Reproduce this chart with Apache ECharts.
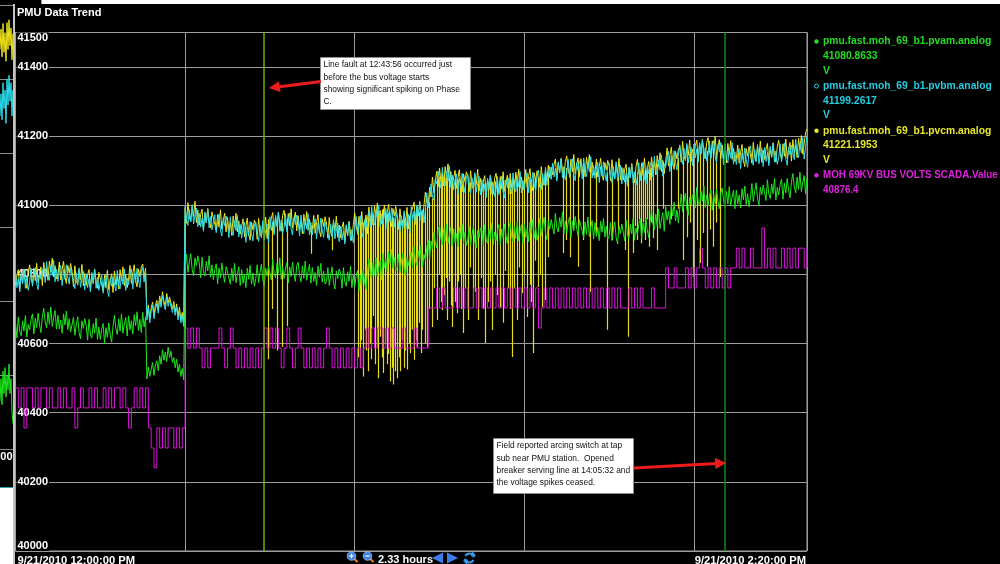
<!DOCTYPE html>
<html>
<head>
<meta charset="utf-8">
<title>PMU Data Trend</title>
<script src="https://cdn.jsdelivr.net/npm/echarts@6/dist/echarts.min.js"></script>
<style>
  html, body { margin: 0; padding: 0; background: #000; }
  #chart { width: 1000px; height: 564px; }
</style>
</head>
<body>
<div id="chart"></div>
<script>
// ---- data -------------------------------------------------------------
// Minutes after 9/21/2010 12:00:00 PM.
// PMU channels are listed every quarter minute, the SCADA point every half minute.
const PMU_STEP_MIN = 0.25;
const SCADA_STEP_MIN = 0.5;
const xTickLabels = ['9/21/2010 12:00:00 PM', '9/21/2010 2:20:00 PM'];
const seriesNames = [
  'pmu.fast.moh_69_b1.pvam.analog',
  'pmu.fast.moh_69_b1.pvbm.analog',
  'pmu.fast.moh_69_b1.pvcm.analog',
  'MOH 69KV BUS VOLTS SCADA.Value'
];
const lastValues = ['41080.8633', '41199.2617', '41221.1953', '40876.4'];
const seriesUnits = ['V', 'V', 'V', ''];

// Phase A magnitude (V)
const pvam = [
  40661, 40617, 40677, 40635, 40623, 40665, 40637, 40681, 40619, 40655, 40640, 40670, 40686, 40628, 40674, 40646, 40688, 40654, 40632, 40678,
  40702, 40664, 40646, 40692, 40656, 40706, 40650, 40676, 40696, 40642, 40682, 40642, 40668, 40630, 40686, 40654, 40694, 40640, 40672, 40634,
  40636, 40676, 40624, 40654, 40678, 40632, 40614, 40666, 40644, 40672, 40654, 40610, 40670, 40628, 40616, 40658, 40630, 40674, 40612, 40648,
  40612, 40642, 40658, 40600, 40646, 40618, 40660, 40626, 40604, 40650, 40682, 40644, 40626, 40672, 40636, 40686, 40630, 40656, 40676, 40622,
  40680, 40640, 40666, 40628, 40684, 40652, 40692, 40638, 40670, 40632, 40690, 40648, 40678, 40498, 40532, 40505, 40525, 40545, 40508, 40538,
  40550, 40522, 40565, 40540, 40582, 40552, 40575, 40548, 40590, 40560, 40578, 40545, 40560, 40530, 40555, 40518, 40540, 40505, 40528, 40495,
  40818, 40858, 40806, 40836, 40860, 40814, 40796, 40848, 40826, 40854, 40834, 40790, 40850, 40808, 40796, 40838, 40810, 40854, 40792, 40828,
  40785, 40815, 40831, 40773, 40819, 40791, 40833, 40799, 40777, 40823, 40828, 40790, 40772, 40818, 40782, 40832, 40776, 40802, 40822, 40768,
  40814, 40774, 40800, 40762, 40818, 40786, 40826, 40772, 40804, 40766, 40788, 40828, 40776, 40806, 40830, 40784, 40766, 40818, 40796, 40824,
  40828, 40784, 40844, 40802, 40790, 40832, 40804, 40848, 40786, 40822, 40788, 40818, 40834, 40776, 40822, 40794, 40836, 40802, 40780, 40826,
  40835, 40797, 40779, 40825, 40789, 40839, 40783, 40809, 40829, 40775, 40820, 40780, 40806, 40768, 40824, 40792, 40832, 40778, 40810, 40772,
  40780, 40820, 40768, 40798, 40822, 40776, 40758, 40810, 40788, 40816, 40804, 40760, 40820, 40778, 40766, 40808, 40780, 40824, 40762, 40798,
  40765, 40795, 40811, 40753, 40799, 40771, 40813, 40779, 40757, 40803, 40845, 40807, 40789, 40835, 40799, 40849, 40793, 40819, 40839, 40785,
  40860, 40820, 40846, 40808, 40864, 40832, 40872, 40818, 40850, 40812, 40818, 40858, 40806, 40836, 40860, 40814, 40796, 40848, 40826, 40854,
  40864, 40820, 40880, 40838, 40826, 40868, 40840, 40884, 40822, 40858, 40840, 40876, 40898, 40845, 40897, 40874, 40922, 40893, 40877, 40928,
  40942, 40904, 40886, 40932, 40896, 40946, 40890, 40916, 40936, 40882, 40932, 40892, 40918, 40880, 40936, 40904, 40944, 40890, 40922, 40884,
  40898, 40938, 40886, 40916, 40940, 40894, 40876, 40928, 40906, 40934, 40928, 40884, 40944, 40902, 40890, 40932, 40904, 40948, 40886, 40922,
  40898, 40928, 40944, 40886, 40932, 40904, 40946, 40912, 40890, 40936, 40950, 40912, 40894, 40940, 40904, 40954, 40898, 40924, 40944, 40890,
  40947, 40907, 40933, 40895, 40951, 40919, 40959, 40905, 40937, 40899, 40923, 40963, 40911, 40941, 40965, 40919, 40901, 40953, 40931, 40959,
  40961, 40917, 40977, 40935, 40923, 40965, 40937, 40981, 40919, 40955, 40920, 40950, 40966, 40908, 40954, 40926, 40968, 40934, 40912, 40958,
  40962, 40924, 40906, 40952, 40916, 40966, 40910, 40936, 40956, 40902, 40950, 40910, 40936, 40898, 40954, 40922, 40962, 40908, 40940, 40902,
  40910, 40950, 40898, 40928, 40952, 40906, 40888, 40940, 40918, 40946, 40941, 40897, 40957, 40915, 40903, 40945, 40917, 40961, 40899, 40935,
  40915, 40945, 40961, 40903, 40949, 40921, 40963, 40929, 40907, 40953, 40985, 40947, 40929, 40975, 40939, 40989, 40933, 40959, 40979, 40925,
  40997, 40957, 40983, 40945, 41001, 40969, 41009, 40955, 40987, 40949, 40993, 41033, 40981, 41011, 41035, 40989, 40971, 41023, 41001, 41029,
  41036, 40992, 41052, 41010, 40998, 41040, 41012, 41056, 40994, 41030, 40998, 41028, 41044, 40986, 41032, 41004, 41046, 41012, 40990, 41036,
  41050, 41012, 40994, 41040, 41004, 41054, 40998, 41024, 41044, 40990, 41044, 41004, 41030, 40992, 41048, 41016, 41056, 41002, 41034, 40996,
  41023, 41063, 41011, 41041, 41065, 41019, 41001, 41053, 41031, 41059, 41058, 41014, 41074, 41032, 41020, 41062, 41034, 41078, 41016, 41052,
  41030, 41060, 41076, 41018, 41064, 41036, 41078, 41044, 41022, 41068, 41092, 41054, 41036, 41082, 41046, 41096, 41040, 41066, 41086, 41032,
  41080
];

// Phase B magnitude (V)
const pvbm = [
  40802, 40762, 40788, 40750, 40806, 40774, 40814, 40760, 40792, 40754, 40778, 40818, 40766, 40796, 40820, 40774, 40756, 40808, 40786, 40814,
  40821, 40777, 40837, 40795, 40783, 40825, 40797, 40841, 40779, 40815, 40780, 40810, 40826, 40768, 40814, 40786, 40828, 40794, 40772, 40818,
  40815, 40777, 40759, 40805, 40769, 40819, 40763, 40789, 40809, 40755, 40802, 40762, 40788, 40750, 40806, 40774, 40814, 40760, 40792, 40754,
  40758, 40798, 40746, 40776, 40800, 40754, 40736, 40788, 40766, 40794, 40796, 40752, 40812, 40770, 40758, 40800, 40772, 40816, 40754, 40790,
  40770, 40800, 40816, 40758, 40804, 40776, 40818, 40784, 40762, 40808, 40820, 40778, 40812, 40668, 40702, 40660, 40695, 40710, 40672, 40700,
  40715, 40688, 40728, 40705, 40740, 40712, 40698, 40735, 40708, 40725, 40730, 40690, 40712, 40682, 40705, 40668, 40695, 40660, 40680, 40650,
  40998, 40960, 40942, 40988, 40952, 41002, 40946, 40972, 40992, 40938, 40977, 40937, 40963, 40925, 40981, 40949, 40989, 40935, 40967, 40929,
  40933, 40973, 40921, 40951, 40975, 40929, 40911, 40963, 40941, 40969, 40951, 40907, 40967, 40925, 40913, 40955, 40927, 40971, 40909, 40945,
  40905, 40935, 40951, 40893, 40939, 40911, 40953, 40919, 40897, 40943, 40952, 40914, 40896, 40942, 40906, 40956, 40900, 40926, 40946, 40892,
  40967, 40927, 40953, 40915, 40971, 40939, 40979, 40925, 40957, 40919, 40936, 40976, 40924, 40954, 40978, 40932, 40914, 40966, 40944, 40972,
  40956, 40912, 40972, 40930, 40918, 40960, 40932, 40976, 40914, 40950, 40915, 40945, 40961, 40903, 40949, 40921, 40963, 40929, 40907, 40953,
  40955, 40917, 40899, 40945, 40909, 40959, 40903, 40929, 40949, 40895, 40940, 40900, 40926, 40888, 40944, 40912, 40952, 40898, 40930, 40892,
  40928, 40968, 40916, 40946, 40970, 40924, 40906, 40958, 40936, 40964, 40981, 40937, 40997, 40955, 40943, 40985, 40957, 41001, 40939, 40975,
  40945, 40975, 40991, 40933, 40979, 40951, 40993, 40959, 40937, 40983, 40980, 40942, 40924, 40970, 40934, 40984, 40928, 40954, 40974, 40920,
  40997, 40957, 40983, 40945, 41001, 40969, 41009, 40955, 40987, 40949, 40988, 41036, 40992, 41030, 41062, 41024, 41016, 41076, 41062, 41099,
  41094, 41050, 41110, 41068, 41056, 41098, 41070, 41114, 41052, 41088, 41045, 41075, 41091, 41033, 41079, 41051, 41093, 41059, 41037, 41083,
  41090, 41052, 41034, 41080, 41044, 41094, 41038, 41064, 41084, 41030, 41074, 41034, 41060, 41022, 41078, 41046, 41086, 41032, 41064, 41026,
  41043, 41083, 41031, 41061, 41085, 41039, 41021, 41073, 41051, 41079, 41078, 41034, 41094, 41052, 41040, 41082, 41054, 41098, 41036, 41072,
  41048, 41078, 41094, 41036, 41082, 41054, 41096, 41062, 41040, 41086, 41102, 41064, 41046, 41092, 41060, 41110, 41058, 41088, 41112, 41075,
  41122, 41082, 41108, 41070, 41126, 41094, 41134, 41080, 41112, 41074, 41093, 41133, 41081, 41111, 41135, 41089, 41071, 41123, 41101, 41129,
  41121, 41077, 41137, 41095, 41083, 41125, 41097, 41141, 41079, 41115, 41078, 41108, 41124, 41066, 41112, 41084, 41126, 41092, 41070, 41116,
  41122, 41084, 41066, 41112, 41076, 41126, 41070, 41096, 41116, 41062, 41107, 41067, 41093, 41055, 41111, 41079, 41119, 41065, 41097, 41059,
  41083, 41123, 41071, 41101, 41125, 41079, 41061, 41113, 41091, 41119, 41126, 41082, 41142, 41100, 41088, 41130, 41102, 41146, 41084, 41120,
  41110, 41140, 41156, 41098, 41144, 41116, 41158, 41124, 41102, 41148, 41175, 41137, 41119, 41165, 41129, 41179, 41123, 41149, 41169, 41115,
  41177, 41137, 41163, 41125, 41181, 41149, 41189, 41135, 41167, 41129, 41146, 41186, 41134, 41164, 41188, 41142, 41124, 41176, 41154, 41182,
  41161, 41117, 41177, 41135, 41123, 41165, 41137, 41181, 41119, 41155, 41118, 41148, 41164, 41106, 41152, 41124, 41166, 41132, 41110, 41156,
  41172, 41134, 41116, 41162, 41126, 41176, 41120, 41146, 41166, 41112, 41167, 41127, 41153, 41115, 41171, 41139, 41179, 41125, 41157, 41119,
  41138, 41178, 41126, 41156, 41180, 41134, 41116, 41168, 41146, 41174, 41176, 41132, 41192, 41150, 41138, 41180, 41152, 41196, 41134, 41170,
  41199
];

// Phase C magnitude (V)
const pvcm = [
  40768, 40798, 40814, 40756, 40802, 40774, 40816, 40782, 40760, 40806, 40828, 40790, 40772, 40818, 40782, 40832, 40776, 40802, 40822, 40768,
  40835, 40795, 40821, 40783, 40839, 40807, 40847, 40793, 40825, 40787, 40796, 40836, 40784, 40814, 40838, 40792, 40774, 40826, 40804, 40832,
  40809, 40765, 40825, 40783, 40771, 40813, 40785, 40829, 40767, 40803, 40768, 40798, 40814, 40756, 40802, 40774, 40816, 40782, 40760, 40806,
  40808, 40770, 40752, 40798, 40762, 40812, 40756, 40782, 40802, 40748, 40810, 40770, 40796, 40758, 40814, 40782, 40822, 40768, 40800, 40762,
  40786, 40826, 40774, 40804, 40828, 40782, 40764, 40816, 40794, 40822, 40830, 40790, 40818, 40678, 40712, 40670, 40705, 40720, 40682, 40712,
  40725, 40698, 40738, 40715, 40750, 40722, 40708, 40745, 40718, 40735, 40740, 40700, 40722, 40692, 40715, 40678, 40705, 40670, 40690, 40662,
  40992, 40948, 41008, 40966, 40954, 40996, 40968, 41012, 40950, 40986, 40943, 40973, 40989, 40931, 40977, 40949, 40991, 40957, 40935, 40981,
  40983, 40945, 40927, 40973, 40937, 40987, 40931, 40957, 40977, 40923, 40965, 40925, 40951, 40913, 40969, 40937, 40977, 40923, 40955, 40917,
  40921, 40961, 40909, 40939, 40963, 40917, 40899, 40951, 40929, 40957, 40946, 40902, 40962, 40920, 40908, 40950, 40922, 40966, 40904, 40940,
  40933, 40963, 40979, 40921, 40967, 40939, 40981, 40947, 40925, 40971, 40986, 40948, 40930, 40976, 40940, 40990, 40934, 40960, 40980, 40926,
  40970, 40930, 40956, 40918, 40974, 40942, 40982, 40928, 40960, 40922, 40931, 40971, 40919, 40949, 40973, 40927, 40909, 40961, 40939, 40967,
  40949, 40905, 40965, 40923, 40911, 40953, 40925, 40969, 40907, 40943, 40906, 40936, 40952, 40894, 40940, 40912, 40954, 40920, 40898, 40944,
  40978, 40940, 40922, 40968, 40932, 40982, 40926, 40952, 40972, 40918, 40995, 40955, 40981, 40943, 40999, 40967, 41007, 40953, 40985, 40947,
  40961, 41001, 40949, 40979, 41003, 40957, 40939, 40991, 40969, 40997, 40974, 40930, 40990, 40948, 40936, 40978, 40950, 40994, 40932, 40968,
  40963, 40993, 41009, 40951, 40997, 40969, 41011, 40977, 40955, 41001, 41038, 41008, 40998, 41052, 41024, 41082, 41036, 41070, 41098, 41053,
  41108, 41068, 41094, 41056, 41112, 41080, 41120, 41066, 41098, 41060, 41061, 41101, 41049, 41079, 41103, 41057, 41039, 41091, 41069, 41097,
  41084, 41040, 41100, 41058, 41046, 41088, 41060, 41104, 41042, 41078, 41040, 41070, 41086, 41028, 41074, 41046, 41088, 41054, 41032, 41078,
  41093, 41055, 41037, 41083, 41047, 41097, 41041, 41067, 41087, 41033, 41092, 41052, 41078, 41040, 41096, 41064, 41104, 41050, 41082, 41044,
  41064, 41104, 41052, 41082, 41106, 41060, 41042, 41094, 41072, 41100, 41096, 41052, 41112, 41070, 41058, 41100, 41072, 41116, 41080, 41110,
  41088, 41118, 41134, 41076, 41122, 41094, 41136, 41102, 41080, 41126, 41143, 41105, 41087, 41133, 41097, 41147, 41091, 41117, 41137, 41083,
  41135, 41095, 41121, 41083, 41139, 41107, 41147, 41093, 41125, 41087, 41094, 41134, 41082, 41112, 41136, 41090, 41072, 41124, 41102, 41130,
  41116, 41072, 41132, 41090, 41078, 41120, 41092, 41136, 41074, 41110, 41073, 41103, 41119, 41061, 41107, 41079, 41121, 41087, 41065, 41111,
  41133, 41095, 41077, 41123, 41087, 41137, 41081, 41107, 41127, 41073, 41140, 41100, 41126, 41088, 41144, 41112, 41152, 41098, 41130, 41092,
  41126, 41166, 41114, 41144, 41168, 41122, 41104, 41156, 41134, 41162, 41169, 41125, 41185, 41143, 41131, 41173, 41145, 41189, 41127, 41163,
  41143, 41173, 41189, 41131, 41177, 41149, 41191, 41157, 41135, 41181, 41196, 41158, 41140, 41186, 41150, 41200, 41144, 41170, 41190, 41136,
  41175, 41135, 41161, 41123, 41179, 41147, 41187, 41133, 41165, 41127, 41134, 41174, 41122, 41152, 41176, 41130, 41112, 41164, 41142, 41170,
  41166, 41122, 41182, 41140, 41128, 41170, 41142, 41186, 41124, 41160, 41133, 41163, 41179, 41121, 41167, 41139, 41181, 41147, 41125, 41171,
  41188, 41150, 41132, 41178, 41142, 41192, 41136, 41162, 41182, 41128, 41190, 41150, 41176, 41138, 41194, 41162, 41202, 41148, 41180, 41210,
  41221
];

// Phase C voltage spikes: [minute, level before the spike (V), bottom of the spike (V)]
const pvcmSpikes = [
  [44.7, 40960, 40555], [45.4, 40950, 40700], [46.3, 40955, 40580], [47.2, 40950, 40590], [48.1, 40960, 40650],
  [52.3, 40940, 40860], [56.0, 40940, 40870],
  [60.6, 40955, 40560], [60.9, 40960, 40530], [61.2, 40952, 40610], [61.5, 40950, 40505], [61.8, 40958, 40640],
  [62.1, 40965, 40580], [62.4, 40962, 40520], [62.7, 40960, 40600], [63.0, 40970, 40555], [63.3, 40972, 40680],
  [63.6, 40978, 40540], [63.9, 40985, 40590], [64.2, 40982, 40500], [64.5, 40980, 40620], [64.8, 40988, 40560],
  [65.1, 40990, 40515], [65.4, 40982, 40600], [65.7, 40975, 40540], [66.0, 40972, 40570], [66.3, 40970, 40490],
  [66.6, 40968, 40530], [66.9, 40965, 40482], [67.2, 40962, 40520], [67.5, 40960, 40500], [67.8, 40958, 40560],
  [68.1, 40955, 40520], [68.4, 40958, 40610], [68.7, 40960, 40530], [69.0, 40962, 40580], [69.3, 40965, 40525],
  [69.6, 40968, 40600], [69.9, 40970, 40572], [70.2, 40972, 40640], [70.5, 40975, 40553], [70.8, 40976, 40610],
  [71.1, 40978, 40590], [71.4, 40980, 40660], [71.7, 40982, 40573], [72.0, 40985, 40640], [72.4, 40992, 40600],
  [72.8, 41000, 40590],
  [73.2, 41010, 40700], [73.7, 41020, 40648], [74.1, 41050, 40760], [74.6, 41070, 40668], [75.0, 41080, 40800],
  [75.3, 41082, 40720], [75.5, 41085, 40697], [75.9, 41082, 40740], [76.2, 41080, 40790], [76.4, 41080, 40668],
  [76.8, 41080, 40780], [77.1, 41078, 40710], [77.3, 41078, 40648], [77.7, 41076, 40720], [78.1, 41075, 40688],
  [78.4, 41074, 40780], [78.6, 41072, 40800], [78.9, 41072, 40700], [79.2, 41070, 40631], [79.6, 41070, 40760],
  [80.1, 41068, 40668], [80.5, 41066, 40820], [81.0, 41065, 40706], [81.4, 41062, 40750], [81.9, 41060, 40668],
  [82.4, 41062, 40790], [82.8, 41063, 40700], [83.1, 41065, 40602], [83.6, 41066, 40720], [84.0, 41067, 40780],
  [84.3, 41068, 40639], [84.9, 41070, 40800], [85.3, 41070, 40740], [85.7, 41070, 40706], [86.3, 41072, 40660],
  [86.7, 41073, 40810], [87.1, 41074, 40760], [87.5, 41074, 40700], [87.9, 41075, 40561], [88.3, 41075, 40760],
  [88.7, 41075, 40668], [89.1, 41072, 40820], [89.6, 41070, 40746], [90.0, 41071, 40800], [90.5, 41072, 40677],
  [91.0, 41074, 40770], [91.3, 41075, 40720], [91.6, 41075, 40573], [92.0, 41078, 40840], [92.5, 41080, 40764],
  [92.9, 41082, 40800], [93.2, 41085, 40706], [93.7, 41090, 40726], [94.2, 41092, 40850],
  [96.9, 41110, 40862], [97.5, 41108, 40900], [98.1, 41108, 40850], [98.7, 41108, 40930], [99.5, 41110, 40822],
  [100.5, 41105, 40900], [101.6, 41100, 40750], [102.8, 41098, 40920], [104.7, 41095, 40640], [105.5, 41095, 40900],
  [106.6, 41090, 40930], [107.8, 41085, 40871], [108.4, 41085, 40620], [109.2, 41088, 40862], [109.6, 41090, 40940],
  [109.9, 41095, 40900], [110.3, 41098, 40960], [110.7, 41100, 40890], [111.0, 41100, 40950], [111.4, 41100, 40900],
  [111.8, 41102, 40960], [112.1, 41105, 40880], [112.5, 41108, 40950], [112.8, 41110, 40905], [113.5, 41120, 40871],
  [114.5, 41125, 40990], [116.0, 41135, 40960], [117.2, 41138, 40990], [118.1, 41140, 40842], [118.8, 41145, 40908],
  [119.4, 41148, 40950], [119.9, 41150, 40793], [120.5, 41152, 40900], [121.1, 41155, 40833], [121.7, 41156, 40920],
  [122.3, 41158, 40822], [122.9, 41158, 40930], [123.4, 41155, 40880], [124.0, 41152, 40950], [124.6, 41150, 40793]
];

// SCADA bus voltage (V), quantised readings
const scada = [
  40472, 40414, 40472, 40356, 40472, 40472, 40414, 40472, 40414, 40472, 40472, 40414, 40472, 40414, 40414, 40472, 40414, 40472, 40414, 40414,
  40472, 40356, 40414, 40472, 40414, 40414, 40472, 40414, 40472, 40414, 40414, 40472, 40414, 40472, 40414, 40472, 40472, 40414, 40472, 40414,
  40356, 40414, 40472, 40414, 40472, 40414, 40472, 40356, 40298, 40241, 40356, 40298, 40356, 40298, 40356, 40356, 40298, 40356, 40298, 40356,
  40645, 40587, 40645, 40587, 40645, 40587, 40530, 40587, 40530, 40587, 40587, 40587, 40645, 40587, 40530, 40587, 40645, 40587, 40530, 40587,
  40530, 40587, 40530, 40587, 40530, 40587, 40530, 40587, 40645, 40587, 40645, 40587, 40645, 40587, 40530, 40587, 40645, 40587, 40530, 40587,
  40645, 40587, 40530, 40587, 40530, 40587, 40530, 40587, 40530, 40587, 40645, 40587, 40530, 40587, 40530, 40587, 40530, 40587, 40530, 40587,
  40530, 40587, 40530, 40587, 40645, 40587, 40645, 40587, 40645, 40645, 40587, 40645, 40587, 40645, 40587, 40587, 40587, 40645, 40587, 40587,
  40587, 40645, 40587, 40587, 40587, 40587, 40703, 40703, 40703, 40761, 40703, 40761, 40703, 40703, 40703, 40761, 40703, 40761, 40703, 40761,
  40703, 40703, 40761, 40703, 40761, 40703, 40761, 40703, 40761, 40703, 40761, 40703, 40761, 40703, 40761, 40703, 40761, 40703, 40761, 40703,
  40761, 40703, 40761, 40703, 40761, 40645, 40703, 40761, 40703, 40761, 40703, 40761, 40703, 40761, 40703, 40761, 40703, 40761, 40703, 40761,
  40703, 40761, 40703, 40761, 40703, 40761, 40703, 40761, 40703, 40761, 40703, 40761, 40703, 40761, 40703, 40703, 40703, 40761, 40703, 40761,
  40703, 40761, 40703, 40703, 40703, 40761, 40703, 40703, 40703, 40703, 40819, 40761, 40761, 40819, 40761, 40761, 40761, 40819, 40761, 40819,
  40761, 40819, 40876, 40819, 40761, 40819, 40761, 40819, 40761, 40819, 40761, 40819, 40761, 40819, 40819, 40876, 40819, 40876, 40819, 40819,
  40876, 40819, 40819, 40819, 40934, 40819, 40876, 40819, 40876, 40819, 40819, 40876, 40819, 40876, 40819, 40876, 40819, 40876, 40876, 40819,
  40876
];

// Events marked on the trend (minutes after 12:00 PM)
const eventMinutes = [43.93, 125.53];
const noteTexts = [
  ['Line fault at 12:43:56 occurred just', 'before the bus voltage starts', 'showing significant spiking on Phase', 'C.'],
  ['Field reported arcing switch at tap', 'sub near PMU station.  Opened', 'breaker serving line at 14:05:32 and', 'the voltage spikes ceased.']
];
const zoomSpanLabel = '2.33 hours';

// Window partly hidden behind the trend panel (left edge)
const bgYellow = [[93, 41880], [93.5, 41935], [94, 41860], [94.5, 41950], [95, 41872], [95.5, 41925], [96, 41848], [96.5, 41952], [97, 41880], [97.5, 41960], [98, 41890], [98.5, 41938], [99, 41852], [99.5, 41922], [100, 41870]];
const bgCyan = [[93, 41700], [93.5, 41760], [94, 41690], [94.5, 41790], [95, 41720], [95.5, 41770], [96, 41680], [96.5, 41800], [97, 41730], [97.5, 41810], [98, 41740], [98.5, 41790], [99, 41700], [99.5, 41770], [100, 41690]];
const bgGreen = [[93, 40930], [93.5, 40990], [94, 40920], [94.5, 41010], [95, 40950], [95.5, 41020], [96, 40940], [96.5, 41000], [97, 40960], [97.5, 41030], [98, 40950], [98.5, 40990], [99, 40900], [99.5, 40870], [100, 40860]];

// ---- chart ------------------------------------------------------------
const UI_FONT = '"Liberation Sans", Arial, sans-serif';
const NOTE_FONT = '"Liberation Sans", Arial, sans-serif';
const COLORS = {
  pvam: '#1ee61e', pvbm: '#2ee0ee', pvcm: '#f2e81a', scada: '#dc14dc',
  grid: '#9c9c9c', fault: '#6fae00', cleared: '#0e8e0e'
};
const legendColors = ['#22dd22', '#25cde0', '#e6e62a', '#e020e0'];

const toSeries = (values, step) => values.map((v, i) => [i * step, v]);

const chart = echarts.init(document.getElementById('chart'), null, { renderer: 'canvas', width: 1000, height: 564 });

const yCommon = { type: 'value', min: 40000, max: 41500, interval: 200 };

chart.setOption({
  backgroundColor: '#000',
  animation: false,
  grid: [
    { left: 15.5, top: 32.5, width: 791.5, height: 518.5, show: true, borderColor: '#a6a6a6', borderWidth: 1, backgroundColor: 'transparent', containLabel: false, outerBoundsMode: 'none' },
    { left: -186, top: 5, width: 200, height: 740, show: false, containLabel: false, outerBoundsMode: 'none' }
  ],
  xAxis: [
    {
      gridIndex: 0, type: 'value', min: 0, max: 140, interval: 30,
      axisLine: { show: false }, axisTick: { show: false },
      splitLine: { show: true, lineStyle: { color: COLORS.grid, width: 1 } },
      axisLabel: {
        show: true, color: '#ffffff', fontFamily: UI_FONT, fontWeight: 'bold', fontSize: 11.2, margin: 4,
        padding: [0, 1, 0, 2],
        showMinLabel: true, showMaxLabel: true, alignMinLabel: 'left', alignMaxLabel: 'right',
        formatter: v => (v === 0 ? xTickLabels[0] : (v === 140 ? xTickLabels[1] : ''))
      }
    },
    {
      gridIndex: 1, type: 'value', min: 0, max: 100,
      axisLine: { show: false }, axisTick: { show: false }, axisLabel: { show: false }, splitLine: { show: false }
    }
  ],
  yAxis: [
    Object.assign({}, yCommon, {
      gridIndex: 0, position: 'left',
      axisLine: { show: false }, axisTick: { show: false }, axisLabel: { show: false },
      splitLine: { show: true, lineStyle: { color: COLORS.grid, width: 1 } }
    }),
    Object.assign({}, yCommon, {
      gridIndex: 0, position: 'left', offset: 0, z: 1,
      axisLine: { show: false }, axisTick: { show: false }, splitLine: { show: false },
      axisLabel: {
        show: true, inside: true, margin: 1, color: '#ffffff', fontFamily: UI_FONT, fontWeight: 'bold', fontSize: 11,
        backgroundColor: '#000', padding: [0, 1, 0, 1],
        showMinLabel: true, showMaxLabel: true,
        verticalAlignMinLabel: 'bottom', verticalAlignMaxLabel: 'top',
        formatter: v => String(v)
      }
    }),
    {
      gridIndex: 1, type: 'value', min: 40000, max: 42000, interval: 200,
      axisLine: { show: false }, axisTick: { show: false },
      splitLine: { show: true, lineStyle: { color: '#8a8a8a', width: 1 } },
      axisLabel: {
        show: true, inside: true, margin: 168, verticalAlign: 'top', padding: [2, 0, 0, 0],
        color: '#ffffff', fontFamily: UI_FONT, fontWeight: 'bold', fontSize: 11,
        formatter: v => (v === 40800 ? String(v) : '')
      }
    }
  ],
  series: [
    { name: 'bgGreen', type: 'line', xAxisIndex: 1, yAxisIndex: 2, data: bgGreen, showSymbol: false, silent: true, lineStyle: { color: COLORS.pvam, width: 1 } },
    { name: 'bgYellow', type: 'line', xAxisIndex: 1, yAxisIndex: 2, data: bgYellow, showSymbol: false, silent: true, lineStyle: { color: COLORS.pvcm, width: 1 } },
    { name: 'bgCyan', type: 'line', xAxisIndex: 1, yAxisIndex: 2, data: bgCyan, showSymbol: false, silent: true, lineStyle: { color: COLORS.pvbm, width: 1 } },

    { name: seriesNames[3], type: 'line', step: 'end', data: toSeries(scada, SCADA_STEP_MIN), showSymbol: false, silent: true, lineStyle: { color: COLORS.scada, width: 1 } },
    { name: seriesNames[0], type: 'line', data: toSeries(pvam, PMU_STEP_MIN), showSymbol: false, silent: true, lineStyle: { color: COLORS.pvam, width: 1 } },
    { name: seriesNames[2], type: 'line', data: toSeries(pvcm, PMU_STEP_MIN), showSymbol: false, silent: true, lineStyle: { color: COLORS.pvcm, width: 1 } },
    {
      name: seriesNames[2] + ' spikes', type: 'lines', coordinateSystem: 'cartesian2d', polyline: false, silent: true,
      lineStyle: { color: COLORS.pvcm, width: 1.2, opacity: 0.95 },
      data: pvcmSpikes.map(s => ({ coords: [[s[0], s[1]], [s[0], s[2]]] }))
    },
    {
      name: seriesNames[1], type: 'line', data: toSeries(pvbm, PMU_STEP_MIN), showSymbol: false, silent: true, lineStyle: { color: COLORS.pvbm, width: 1 },
      markLine: {
        silent: true, symbol: 'none', animation: false, label: { show: false },
        data: [
          { xAxis: eventMinutes[0], lineStyle: { color: COLORS.fault, width: 1.5, type: 'solid' } },
          { xAxis: eventMinutes[1], lineStyle: { color: COLORS.cleared, width: 1.5, type: 'solid' } }
        ]
      }
    }
  ]
});

// ---- window chrome, legend panel, notes --------------------------------
function arrow(tail, tip, color) {
  const dx = tip[0] - tail[0], dy = tip[1] - tail[1];
  const len = Math.hypot(dx, dy), ux = dx / len, uy = dy / len;
  const headLen = 11, headHalf = 5.5;
  const bx = tip[0] - ux * headLen, by = tip[1] - uy * headLen;
  return [
    { type: 'line', z: 20, shape: { x1: tail[0], y1: tail[1], x2: bx + ux * 2, y2: by + uy * 2 }, style: { stroke: color, lineWidth: 3 } },
    { type: 'polygon', z: 20, shape: { points: [tip, [bx - uy * headHalf, by + ux * headHalf], [bx + uy * headHalf, by - ux * headHalf]] }, style: { fill: color } }
  ];
}

function note(box, lines) {
  return [
    { type: 'rect', z: 20, shape: { x: box[0], y: box[1], width: box[2], height: box[3] }, style: { fill: '#ffffff', stroke: '#8c8c8c', lineWidth: 1 } },
    { type: 'text', z: 21, x: box[0] + 3, y: box[1] + 1.5, style: { text: lines.join('\n'), font: '8.4px ' + NOTE_FONT, fill: '#111', lineHeight: 12.3, align: 'left', verticalAlign: 'top' } }
  ];
}

const faultX = chart.convertToPixel({ xAxisIndex: 0, yAxisIndex: 0 }, [eventMinutes[0], 41000])[0];
const clearX = chart.convertToPixel({ xAxisIndex: 0, yAxisIndex: 0 }, [eventMinutes[1], 41000])[0];

const graphics = [];
// screen behind the panel
graphics.push({ type: 'rect', z: 30, shape: { x: 42, y: 0, width: 958, height: 4 }, style: { fill: '#ffffff' } });
graphics.push({ type: 'line', z: 30, shape: { x1: 41.5, y1: 0, x2: 41.5, y2: 4 }, style: { stroke: '#9a9a9a', lineWidth: 1 } });
graphics.push({ type: 'rect', z: 30, shape: { x: 0, y: 488, width: 14, height: 76 }, style: { fill: '#ffffff' } });
graphics.push({ type: 'line', z: 30, shape: { x1: 0, y1: 487.5, x2: 14, y2: 487.5 }, style: { stroke: '#2a9fb0', lineWidth: 1 } });
// panel left frame
graphics.push({ type: 'line', z: 30, shape: { x1: 14, y1: 4, x2: 14, y2: 564 }, style: { stroke: '#c4c4bc', lineWidth: 2 } });

// title
graphics.push({ type: 'text', z: 25, x: 17, y: 13, style: { text: 'PMU Data Trend', font: 'bold 11px ' + UI_FONT, fill: '#ffffff', verticalAlign: 'middle' } });

// legend panel
const LEGEND_LINE = 14.6;
const LEGEND_TEXT_X = 823;
const SCADA_INDEX = 3;
seriesNames.forEach((name, k) => {
  const y0 = 41.5 + 44.6 * k;
  const col = legendColors[k];
  if (k === 1) {
    graphics.push({ type: 'circle', z: 25, shape: { cx: 816.5, cy: y0, r: 2 }, style: { fill: 'none', stroke: col, lineWidth: 1 } });
  } else {
    graphics.push({ type: 'circle', z: 25, shape: { cx: 816.5, cy: y0, r: 2.2 }, style: { fill: col } });
  }
  const lines = [name, lastValues[k]];
  if (seriesUnits[k]) lines.push(seriesUnits[k]);
  // the capitalised SCADA tag is set a little tighter so it stays inside the panel
  const squeeze = k === SCADA_INDEX ? 0.955 : 1;
  graphics.push({
    type: 'text', z: 25, x: LEGEND_TEXT_X, y: y0 - LEGEND_LINE / 2, scaleX: squeeze,
    style: { text: lines.join('\n'), font: 'bold 10.3px ' + UI_FONT, fill: col, lineHeight: LEGEND_LINE, verticalAlign: 'top', align: 'left' }
  });
});

// notes and arrows
graphics.push(...note([320.5, 57.5, 150, 52], noteTexts[0]));
graphics.push(...arrow([321, 81.5], [faultX + 5, 88], '#ee1c1c'));
graphics.push(...note([493.5, 438.5, 140, 55], noteTexts[1]));
graphics.push(...arrow([634, 468], [clearX + 1, 463], '#ee1c1c'));

// zoom / pan controls under the plot
function magnifier(cx, cy, plus) {
  const g = [
    { type: 'line', z: 25, shape: { x1: cx + 2, y1: cy + 2, x2: cx + 6, y2: cy + 6 }, style: { stroke: '#e8862a', lineWidth: 2.2 } },
    { type: 'circle', z: 26, shape: { cx: cx, cy: cy, r: 4.3 }, style: { fill: '#3f7fe0', stroke: '#a8c8ff', lineWidth: 0.8 } },
    { type: 'line', z: 27, shape: { x1: cx - 2.3, y1: cy, x2: cx + 2.3, y2: cy }, style: { stroke: '#fff', lineWidth: 1.2 } }
  ];
  if (plus) g.push({ type: 'line', z: 27, shape: { x1: cx, y1: cy - 2.3, x2: cx, y2: cy + 2.3 }, style: { stroke: '#fff', lineWidth: 1.2 } });
  return g;
}
graphics.push(...magnifier(351.5, 556, true));
graphics.push(...magnifier(367.5, 556, false));
graphics.push({ type: 'text', z: 25, x: 378, y: 559.5, style: { text: zoomSpanLabel, font: 'bold 11px ' + UI_FONT, fill: '#ffffff', verticalAlign: 'middle' } });
graphics.push({ type: 'polygon', z: 25, shape: { points: [[432, 558], [443, 552.5], [443, 563.5]] }, style: { fill: '#3d7de8' } });
graphics.push({ type: 'polygon', z: 25, shape: { points: [[458, 558], [447, 552.5], [447, 563.5]] }, style: { fill: '#3d7de8' } });
graphics.push({ type: 'arc', z: 25, shape: { cx: 469.5, cy: 558, r: 4.5, startAngle: Math.PI * 0.15, endAngle: Math.PI * 0.95 }, style: { stroke: '#3d9ae8', lineWidth: 2.2, fill: 'none' } });
graphics.push({ type: 'arc', z: 25, shape: { cx: 469.5, cy: 558, r: 4.5, startAngle: Math.PI * 1.15, endAngle: Math.PI * 1.95 }, style: { stroke: '#3d9ae8', lineWidth: 2.2, fill: 'none' } });
graphics.push({ type: 'polygon', z: 25, shape: { points: [[472, 551], [476, 555.5], [471, 556.5]] }, style: { fill: '#3d9ae8' } });
graphics.push({ type: 'polygon', z: 25, shape: { points: [[467, 565], [463, 560.5], [468, 559.5]] }, style: { fill: '#3d9ae8' } });

chart.setOption({ graphic: graphics });
</script>
</body>
</html>
